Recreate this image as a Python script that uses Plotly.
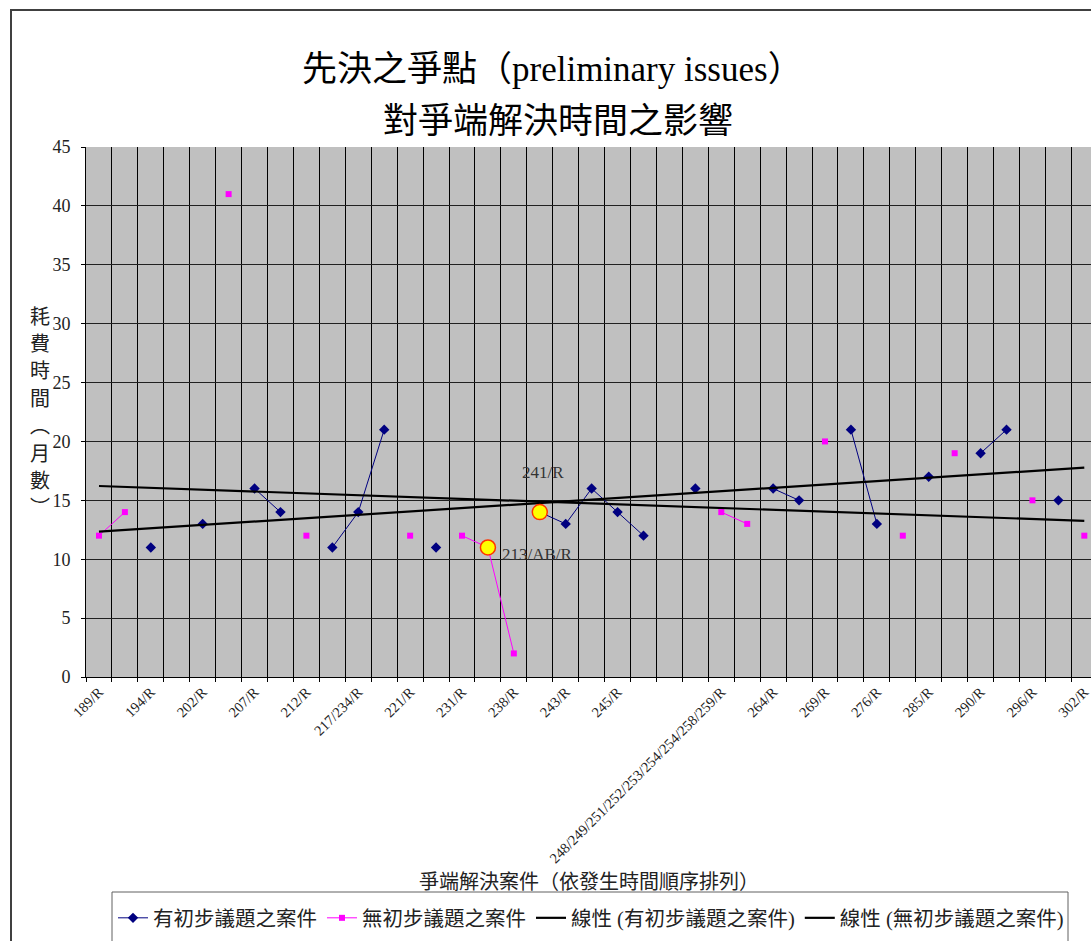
import numpy as np
import plotly.graph_objects as go

# ---------------- data ----------------
# category axis labels (every second category is labelled, blanks = unlabelled)
case_labels = [
    "189/R", "", "194/R", "", "202/R", "", "207/R", "", "212/R", "",
    "217/234/R", "", "221/R", "", "231/R", "", "238/R", "", "243/R", "",
    "245/R", "", "", "", "248/249/251/252/253/254/254/258/259/R", "", "264/R", "", "269/R", "",
    "276/R", "", "285/R", "", "290/R", "", "296/R", "", "302/R",
]
# months taken, cases WITH preliminary issues
with_prelim = [
    None, None, 11, None, 13, None, 16, 14, None, 11,
    14, 21, None, 11, None, None, None, 14, 13, 16,
    14, 12, None, 16, None, None, 16, 15, None, 21,
    13, None, 17, None, 19, 21, None, 15, None,
]
# months taken, cases WITHOUT preliminary issues
without_prelim = [
    12, 14, None, None, None, 41, None, None, 12, None,
    None, None, 12, None, 12, 11, 2, None, None, None,
    None, None, None, None, 14, 13, None, None, 20, None,
    None, 12, None, 19, None, None, 15, None, 12,
]
# highlighted cases: (label, series, category index)
highlight_labels = ["213/AB/R", "241/R"]
highlight_series = ["without", "with"]
highlight_index = [15, 17]

name_with = "有初步議題之案件"
name_without = "無初步議題之案件"
title_line1 = "先決之爭點（preliminary issues）"
title_line2 = "對爭端解決時間之影響"
x_title = "爭端解決案件（依發生時間順序排列）"
y_title = "耗費時間︵月數︶"

# ---------------- figure ----------------
W, H = 1091, 941
L, R, T, B = 86, 0, 147, 264
PW, PH = W - L - R, H - T - B
SERIF = 'Liberation Serif, "Noto Sans CJK TC", serif'
CJK = '"Noto Sans CJK TC", "Noto Sans CJK SC", sans-serif'

def px_to_paper(px, py):
    return (px - L) / PW, (H - B - py) / PH

n = len(case_labels)
idx = [int(i) for i in np.arange(n)]

fig = go.Figure()

fig.add_trace(go.Scatter(
    x=idx, y=with_prelim, mode="lines+markers", name=name_with, connectgaps=False,
    line=dict(color="#000080", width=1),
    marker=dict(symbol="diamond", size=8, color="#000080"),
))
fig.add_trace(go.Scatter(
    x=idx, y=without_prelim, mode="lines+markers", name=name_without, connectgaps=False,
    line=dict(color="#FF00FF", width=1),
    marker=dict(symbol="square", size=6, color="#FF00FF"),
))

def trend(vals):
    px = np.array([i for i, v in enumerate(vals) if v is not None], dtype=float)
    py = np.array([v for v in vals if v is not None], dtype=float)
    k, b = np.polyfit(px, py, 1)
    xx = np.array([idx[0], idx[-1]], dtype=float)
    return xx, k * xx + b

tx, ty = trend(with_prelim)
fig.add_trace(go.Scatter(x=tx, y=ty, mode="lines", name="線性 (" + name_with + ")",
                         line=dict(color="black", width=2.2)))
tx, ty = trend(without_prelim)
fig.add_trace(go.Scatter(x=tx, y=ty, mode="lines", name="線性 (" + name_without + ")",
                         line=dict(color="black", width=2.2)))

hx = highlight_index
hy = [(without_prelim if s == "without" else with_prelim)[i] for s, i in zip(highlight_series, highlight_index)]
fig.add_trace(go.Scatter(
    x=hx, y=hy, mode="markers", showlegend=False,
    marker=dict(symbol="circle", size=15, color="#FFFF00", line=dict(color="#FF3300", width=1.5)),
))

# annotations for highlighted points
offsets = {"213/AB/R": dict(xanchor="left", xshift=12, yshift=-7),
           "241/R": dict(xanchor="center", xshift=3, yshift=40)}
annotations = []
for lab, x, y in zip(highlight_labels, hx, hy):
    o = offsets[lab]
    annotations.append(dict(x=x, y=y, xref="x", yref="y", text=lab, showarrow=False,
                            font=dict(family=SERIF, size=17, color="#333333"),
                            xanchor=o["xanchor"], yanchor="middle",
                            xshift=o["xshift"], yshift=o["yshift"]))

# titles
ax_, ay_ = px_to_paper(552, 70)
annotations.append(dict(x=ax_, y=ay_, xref="paper", yref="paper", text=title_line1, showarrow=False,
                        font=dict(family=SERIF, size=35, color="black"), xanchor="center", yanchor="middle"))
ax_, ay_ = px_to_paper(558, 121)
annotations.append(dict(x=ax_, y=ay_, xref="paper", yref="paper", text=title_line2, showarrow=False,
                        font=dict(family=SERIF, size=35, color="black"), xanchor="center", yanchor="middle"))
ax_, ay_ = px_to_paper(589, 880)
annotations.append(dict(x=ax_, y=ay_, xref="paper", yref="paper", text=x_title, showarrow=False,
                        font=dict(family=CJK, size=20, color="#222222"), xanchor="center", yanchor="middle"))
# vertical (stacked) y-axis title, one character per row
for k, ch in enumerate(y_title):
    ax_, ay_ = px_to_paper(40, 315 + k * 27.4)
    annotations.append(dict(x=ax_, y=ay_, xref="paper", yref="paper", text=ch,
                            showarrow=False, font=dict(family=CJK, size=20, color="#222222"),
                            xanchor="center", yanchor="middle"))

# chart border and legend frame
shapes = []
x0, y0 = px_to_paper(11, 10)
x1, y1 = px_to_paper(1120, 960)
shapes.append(dict(type="rect", xref="paper", yref="paper", x0=x0, y0=y1, x1=x1, y1=y0,
                   line=dict(color="#404040", width=2), fillcolor="rgba(0,0,0,0)"))
x0, y0 = px_to_paper(112, 892)
x1, y1 = px_to_paper(1068, 960)
shapes.append(dict(type="rect", xref="paper", yref="paper", x0=x0, y0=y1, x1=x1, y1=y0,
                   line=dict(color="#606060", width=1), fillcolor="rgba(0,0,0,0)"))

tickvals = [i for i, t in enumerate(case_labels) if t]
ticktext = [t for t in case_labels if t]

fig.update_layout(
    width=W, height=H,
    margin=dict(l=L, r=R, t=T, b=B, pad=0),
    paper_bgcolor="white", plot_bgcolor="#C0C0C0",
    font=dict(family=SERIF, color="#222222"),
    showlegend=True,
    legend=dict(orientation="h", xref="container", yref="container",
                x=113 / W, y=1 - 918 / H, xanchor="left", yanchor="middle",
                font=dict(family=SERIF, size=20.5, color="#222222"),
                bgcolor="rgba(0,0,0,0)", borderwidth=0, itemwidth=30),
    annotations=annotations, shapes=shapes,
    xaxis=dict(
        range=[-0.5, -0.5 + PW / 25.93], tickmode="array", tickvals=tickvals, ticktext=ticktext,
        tickangle=-45, tickfont=dict(family=SERIF, size=14.5, color="#222222"),
        ticklabeloverflow="allow",
        showgrid=False, ticks="", zeroline=False,
        showline=True, linecolor="black", linewidth=1,
        minor=dict(tickmode="linear", tick0=-0.5, dtick=1, showgrid=True, gridcolor="black",
                   gridwidth=1, ticks="outside", ticklen=4, tickcolor="black"),
    ),
    yaxis=dict(
        range=[0, 45], tickmode="linear", tick0=0, dtick=5,
        showgrid=True, gridcolor="#202020", gridwidth=1, zeroline=False,
        showline=True, linecolor="black", linewidth=1,
        ticks="outside", ticklen=4, tickcolor="black", ticklabelstandoff=7,
        tickfont=dict(family=SERIF, size=18, color="#222222"),
    ),
)

fig.write_html("out.html", config={"displayModeBar": False},
               post_script="document.body.style.margin='0px';")
